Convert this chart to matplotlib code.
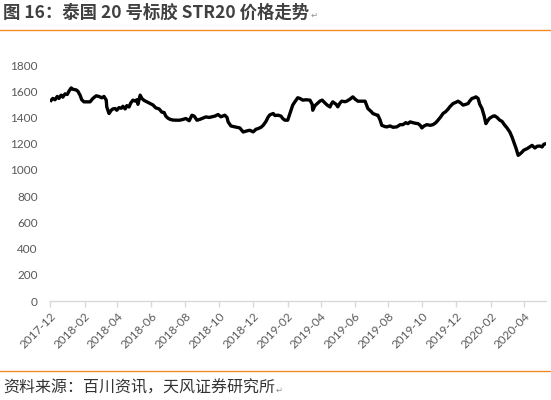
import matplotlib
matplotlib.use("Agg")
import matplotlib.pyplot as plt
import matplotlib.dates as mdates
import pandas as pd

plt.rcParams['font.family'] = ['Noto Sans CJK SC', 'DejaVu Sans']

title_text = "图 16：泰国 20 号标胶 STR20 价格走势"
source_text = "资料来源：百川资讯，天风证券研究所"

start_date = "2017-12-01"
end_date = "2020-05-10"

# days since start_date
day_offsets = [
    2, 5, 9, 13, 16, 20, 23, 27, 31, 34, 38, 41, 47, 50, 54, 57, 61, 66, 72, 77,
    83, 88, 93, 97, 101, 102, 106, 110, 113, 117, 120, 124, 128, 131, 135, 138, 142, 145, 149, 153,
    156, 158, 162, 165, 169, 174, 180, 185, 190, 196, 201, 205, 208, 212, 216, 221, 226, 233, 239, 244,
    250, 255, 259, 264, 269, 275, 280, 286, 291, 296, 302, 307, 314, 318, 320, 325, 330, 336, 341, 347,
    352, 356, 359, 365, 370, 374, 379, 383, 388, 392, 395, 401, 404, 410, 415, 418, 422, 427, 431, 436,
    440, 445, 449, 454, 460, 467, 471, 472, 476, 480, 485, 489, 494, 498, 503, 505, 508, 514, 517, 521,
    524, 530, 533, 539, 544, 548, 553, 560, 566, 571, 577, 580, 586, 589, 593, 596, 602, 605, 611, 616,
    623, 629, 634, 639, 643, 647, 652, 657, 661, 665, 668, 672, 677, 683, 688, 693, 697, 702, 706, 711,
    715, 718, 724, 729, 733, 738, 742, 747, 751, 754, 758, 762, 765, 769, 772, 776, 780, 783, 787, 790,
    796, 799, 803, 808, 812, 817, 821, 826, 830, 832, 835, 837, 841, 844, 848, 851, 857, 860, 866, 869,
    871, 875, 880, 884, 887, 891,
]

prices = [
    1530, 1545, 1535, 1560, 1545, 1570, 1555, 1580, 1575, 1600, 1625, 1615, 1610, 1600, 1570, 1535, 1519, 1519, 1519, 1545,
    1565, 1560, 1550, 1560, 1532, 1480, 1430, 1455, 1465, 1468, 1455, 1475, 1470, 1485, 1465, 1490, 1480, 1510, 1532, 1525,
    1535, 1500, 1570, 1545, 1530, 1519, 1505, 1495, 1473, 1465, 1440, 1438, 1410, 1394, 1385, 1380, 1379, 1379, 1385, 1392,
    1375, 1417, 1410, 1379, 1385, 1395, 1404, 1400, 1405, 1410, 1422, 1405, 1417, 1400, 1366, 1335, 1330, 1325, 1320, 1289,
    1295, 1300, 1302, 1290, 1310, 1315, 1325, 1340, 1370, 1404, 1420, 1430, 1415, 1417, 1410, 1392, 1379, 1379, 1430, 1494,
    1520, 1550, 1545, 1532, 1535, 1532, 1500, 1455, 1490, 1506, 1525, 1532, 1510, 1494, 1480, 1500, 1519, 1500, 1481, 1510,
    1524, 1520, 1524, 1540, 1557, 1540, 1524, 1524, 1524, 1468, 1445, 1430, 1420, 1417, 1380, 1340, 1330, 1328, 1335, 1325,
    1328, 1345, 1345, 1360, 1353, 1366, 1360, 1355, 1353, 1340, 1320, 1335, 1345, 1340, 1345, 1360, 1379, 1405, 1430, 1445,
    1463, 1480, 1506, 1515, 1524, 1510, 1494, 1500, 1506, 1525, 1545, 1550, 1557, 1545, 1500, 1468, 1410, 1353, 1380, 1395,
    1410, 1412, 1400, 1379, 1370, 1340, 1320, 1289, 1250, 1226, 1190, 1167, 1111, 1120, 1136, 1150, 1162, 1170, 1187, 1175,
    1167, 1180, 1182, 1175, 1195, 1200,
]

tick_dates = pd.date_range("2017-12-01", "2020-04-01", freq="2MS")
y_ticks = list(range(0, 1801, 200))

dates = pd.Timestamp(start_date) + pd.to_timedelta(day_offsets, unit="D")

fig = plt.figure(figsize=(5.51, 4.00), dpi=100)
ax = fig.add_axes([50 / 551, 1 - 301 / 400, 496 / 551, 236 / 400])

ax.plot(dates, prices, color="black", lw=2.4, solid_joinstyle="round")

ax.set_xlim(pd.Timestamp(start_date), pd.Timestamp(end_date))
ax.set_ylim(0, 1800)
ax.set_yticks(y_ticks)
ax.set_xticks(tick_dates)
ax.xaxis.set_major_formatter(mdates.DateFormatter("%Y-%m"))

for s in ["top", "right", "left"]:
    ax.spines[s].set_visible(False)
ax.spines["bottom"].set_color("#d9d9d9")
ax.spines["bottom"].set_linewidth(1.0)

ax.tick_params(axis="y", length=0, pad=9, labelsize=8.5, labelcolor="#595959")
ax.tick_params(axis="x", length=4, width=1.0, color="#d9d9d9", pad=3,
               labelsize=8.5, labelcolor="#595959")
for lab in ax.get_xticklabels() + ax.get_yticklabels():
    lab.set_family(["Lato", "DejaVu Sans"])
for lab in ax.get_xticklabels():
    lab.set_rotation(45)
    lab.set_ha("right")
    lab.set_rotation_mode("anchor")

orange = "#F08A24"
fig.add_artist(plt.Line2D([0, 1], [1 - 30 / 400, 1 - 30 / 400], color=orange, lw=1.0,
                          transform=fig.transFigure))
fig.add_artist(plt.Line2D([0, 1], [1 - 371 / 400, 1 - 371 / 400], color=orange, lw=1.0,
                          transform=fig.transFigure))

t1 = fig.text(3 / 551, 1 - 13 / 400, title_text, fontsize=12.5, fontweight="bold",
              color="#404040", ha="left", va="center")
t2 = fig.text(3 / 551, 1 - 388 / 400, source_text, fontsize=11.5,
              color="#333333", ha="left", va="center")

fig.canvas.draw()
r = fig.canvas.get_renderer()
for t in (t1, t2):
    bb = t.get_window_extent(r)
    fig.text((bb.x1 + 1) / fig.bbox.width, (bb.y0 + 2) / fig.bbox.height, "\u21b5",
             fontsize=6, color="#909090", ha="left", va="bottom",
             family=["DejaVu Sans"])

fig.savefig("out.png", dpi=100)
